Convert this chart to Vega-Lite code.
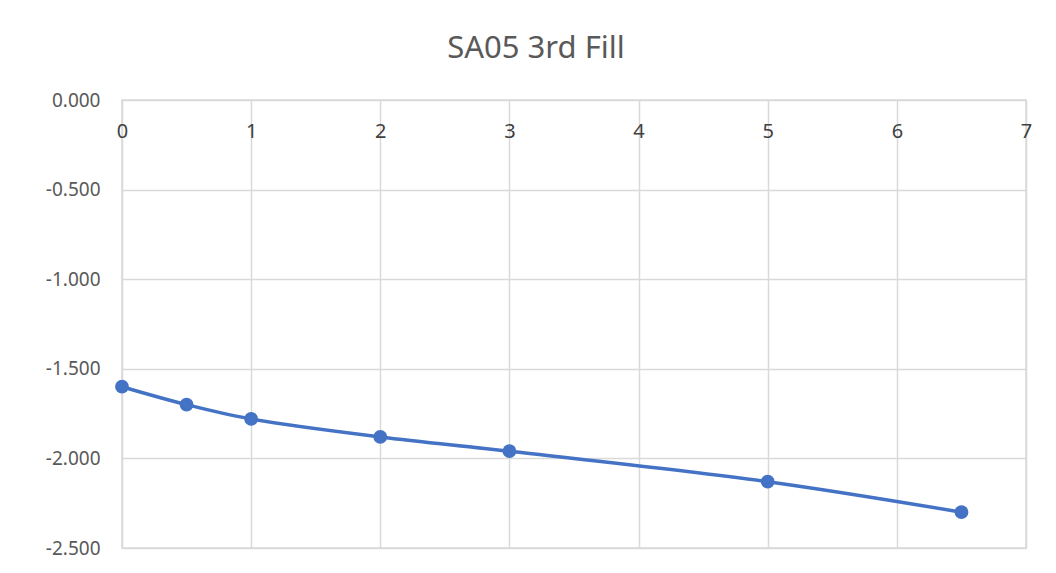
{
  "$schema": "https://vega.github.io/schema/vega-lite/v6.json",
  "width": 904,
  "height": 448,
  "autosize": {"type": "none"},
  "padding": {"left": 122, "top": 100, "right": 30, "bottom": 25},
  "background": "white",
  "title": {
    "text": "SA05 3rd Fill",
    "anchor": "middle",
    "dx": -38,
    "offset": 26,
    "fontSize": 31,
    "font": "Noto Sans",
    "fontWeight": "normal",
    "color": "#595959"
  },
  "config": {
    "view": {"stroke": "#D9D9D9", "strokeWidth": 1.5},
    "axis": {
      "labelFont": "Noto Sans",
      "labelFontSize": 19,
      "labelColor": "#595959",
      "gridColor": "#D9D9D9",
      "gridWidth": 1.5,
      "domain": false,
      "ticks": false,
      "title": null
    }
  },
  "data": {
    "values": [
      {"time": 0, "reading": -1.6},
      {"time": 0.5, "reading": -1.7},
      {"time": 1, "reading": -1.78},
      {"time": 2, "reading": -1.88},
      {"time": 3, "reading": -1.96},
      {"time": 5, "reading": -2.13},
      {"time": 6.5, "reading": -2.3}
    ]
  },
  "encoding": {
    "x": {
      "field": "time",
      "type": "quantitative",
      "scale": {"domain": [0, 7], "nice": false, "zero": false},
      "axis": {"orient": "bottom", "offset": -448, "values": [0, 1, 2, 3, 4, 5, 6, 7], "labelPadding": 21, "labelColor": "#404040", "labelFlush": false, "labelFontSize": 20}
    },
    "y": {
      "field": "reading",
      "type": "quantitative",
      "scale": {"domain": [-2.5, 0], "nice": false, "zero": false},
      "axis": {
        "values": [0, -0.5, -1, -1.5, -2, -2.5],
        "labelExpr": "replace(format(datum.value, '.3f'), '\u2212', '-')",
        "labelPadding": 22
      }
    }
  },
  "layer": [
    {"mark": {"type": "line", "interpolate": "catmull-rom", "color": "#4472C4", "strokeWidth": 3.5}},
    {"mark": {"type": "point", "filled": true, "opacity": 1, "color": "#4472C4", "size": 190}}
  ]
}
